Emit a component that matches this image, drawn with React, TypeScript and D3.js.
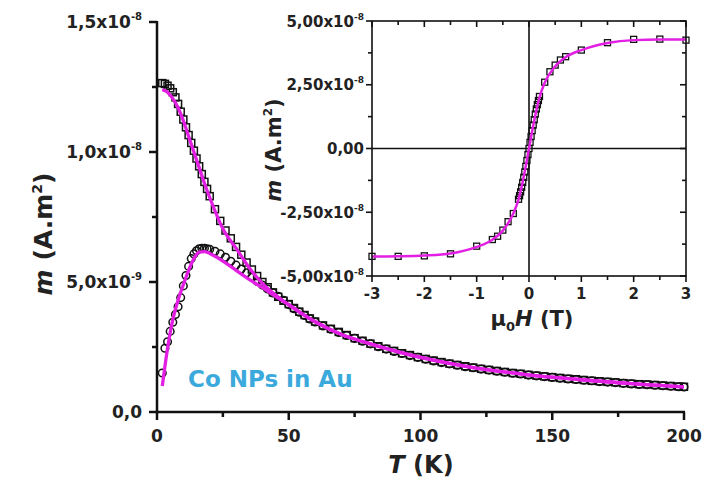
import React from "react";
import * as d3 from "d3";

// ---------- Main plot data (m in units of 1e-9 A.m²) ----------
const temps = [
  2, 3, 4, 5, 6, 7, 8, 9, 10, 11, 12, 13, 14, 15, 16, 17, 18, 19, 20,
  22, 24, 26, 28, 30, 32, 34, 36, 38, 40, 42, 44, 46, 48, 50, 52, 54, 56, 58, 60,
  63, 66, 69, 72, 75, 78, 81, 84, 87, 90, 93, 96, 99, 102, 105, 108, 111, 114, 117, 120,
  123, 126, 129, 132, 135, 138, 141, 144, 147, 150, 153, 156, 159, 162, 165, 168, 171, 174, 177, 180,
  183, 186, 189, 192, 195, 198, 200,
];
const fcValues = [
  12.65, 12.62, 12.55, 12.45, 12.3, 12.1, 11.85, 11.55, 11.25, 10.95, 10.65, 10.35, 10.05, 9.75, 9.45, 9.15, 8.85, 8.58, 8.3,
  7.8, 7.35, 6.98, 6.68, 6.35, 6.05, 5.75, 5.48, 5.23, 5.0, 4.8, 4.6, 4.43, 4.28, 4.15, 4.0, 3.86, 3.73, 3.6, 3.48,
  3.33, 3.2, 3.08, 2.96, 2.84, 2.74, 2.63, 2.53, 2.43, 2.35, 2.26, 2.19, 2.11, 2.04, 1.98, 1.92, 1.86, 1.81, 1.76, 1.71,
  1.66, 1.62, 1.58, 1.54, 1.5, 1.47, 1.43, 1.4, 1.37, 1.34, 1.31, 1.28, 1.26, 1.23, 1.2, 1.18, 1.16, 1.14, 1.11, 1.09,
  1.07, 1.06, 1.04, 1.02, 1.0, 0.98, 0.97,
];
const zfcValues = [
  1.5, 2.45, 2.7, 3.1, 3.45, 3.75, 4.05, 4.4, 4.85, 5.25, 5.6, 5.9, 6.08, 6.2, 6.28, 6.3, 6.3, 6.28, 6.26,
  6.18, 6.08, 5.95, 5.8, 5.65, 5.5, 5.35, 5.18, 5.03, 4.88, 4.73, 4.58, 4.45, 4.3, 4.13, 3.97, 3.84, 3.71, 3.58, 3.46,
  3.31, 3.18, 3.06, 2.94, 2.83, 2.72, 2.62, 2.51, 2.42, 2.33, 2.25, 2.17, 2.1, 2.03, 1.96, 1.9, 1.85, 1.8, 1.74, 1.7,
  1.65, 1.61, 1.57, 1.53, 1.49, 1.46, 1.42, 1.39, 1.36, 1.33, 1.3, 1.27, 1.25, 1.22, 1.2, 1.17, 1.15, 1.13, 1.1, 1.08,
  1.06, 1.05, 1.03, 1.01, 0.99, 0.97, 0.96,
];
const fitFcT = [2, 4, 6, 8, 10, 12, 14, 16, 18, 20, 25, 30, 35, 40, 45, 50, 60, 70, 80, 100, 120, 140, 160, 180, 200];
const fitFcValues = [12.4, 12.3, 12.05, 11.7, 11.2, 10.6, 10.0, 9.4, 8.8, 8.25, 7.05, 6.3, 5.55, 4.95, 4.5, 4.12, 3.47, 2.98, 2.65, 2.1, 1.71, 1.44, 1.25, 1.09, 0.97];
const fitZfcT = [2, 3, 4, 5, 6, 8, 10, 12, 14, 16, 18, 20, 25, 30, 35, 40, 45, 50, 60, 70, 80, 100, 120, 140, 160, 180, 200];
const fitZfcValues = [1.0, 1.75, 2.45, 3.05, 3.55, 4.3, 4.9, 5.45, 5.9, 6.15, 6.17, 6.1, 5.8, 5.45, 5.1, 4.78, 4.45, 4.13, 3.47, 2.98, 2.65, 2.1, 1.71, 1.44, 1.25, 1.09, 0.97];

const mainXTicks = [0, 50, 100, 150, 200];
const mainXMinor = [25, 75, 125, 175];
const mainYTicks = [0, 5, 10, 15];
const mainYMinor = [2.5, 7.5, 12.5];
const mainYTickLabels = [
  { base: "0,0", exp: "" },
  { base: "5,0x10", exp: "-9" },
  { base: "1,0x10", exp: "-8" },
  { base: "1,5x10", exp: "-8" },
];

// ---------- Inset data (m in units of 1e-8 A.m²) ----------
const fields = [
  -3, -2.5, -2, -1.5, -1, -0.7, -0.6, -0.5, -0.4, -0.3, -0.2, -0.18, -0.16, -0.14, -0.12, -0.1, -0.08, -0.06, -0.04, -0.02,
  0, 0.02, 0.04, 0.06, 0.08, 0.1, 0.12, 0.14, 0.16, 0.18, 0.2, 0.3, 0.4, 0.5, 0.6, 0.7, 1, 1.5, 2, 2.5, 3,
];
const loopValues = [
  -4.23, -4.23, -4.21, -4.13, -3.83, -3.57, -3.44, -3.2, -2.87, -2.55, -1.99, -1.85, -1.7, -1.52, -1.33, -1.13, -0.92, -0.7, -0.47, -0.24,
  0.0, 0.24, 0.47, 0.7, 0.92, 1.13, 1.35, 1.55, 1.72, 1.88, 2.04, 2.6, 3.01, 3.27, 3.47, 3.6, 3.86, 4.15, 4.28, 4.29, 4.25,
];
const fitFields = [-3, -2.5, -2, -1.5, -1, -0.7, -0.5, -0.3, -0.2, -0.1, 0, 0.1, 0.2, 0.3, 0.5, 0.7, 1, 1.5, 2, 2.5, 3];
const fitLoopValues = [-4.24, -4.23, -4.2, -4.12, -3.86, -3.58, -3.22, -2.55, -2.0, -1.1, 0, 1.1, 2.0, 2.58, 3.22, 3.58, 3.86, 4.14, 4.25, 4.27, 4.27];

const insetXTicks = [-3, -2, -1, 0, 1, 2, 3];
const insetXMinor = [-2.5, -1.5, -0.5, 0.5, 1.5, 2.5];
const insetYTicks = [-5, -2.5, 0, 2.5, 5];
const insetYMinor = [-3.75, -1.25, 1.25, 3.75];
const insetYTickLabels = [
  { base: "-5,00x10", exp: "-8" },
  { base: "-2,50x10", exp: "-8" },
  { base: "0,00", exp: "" },
  { base: "2,50x10", exp: "-8" },
  { base: "5,00x10", exp: "-8" },
];

const MAGENTA = "#e21fe3";
const FONT = "'DejaVu Sans', 'Liberation Sans', Arial, sans-serif";

export default function App() {
  const x = d3.scaleLinear().domain([0, 200]).range([157, 684]);
  const y = d3.scaleLinear().domain([0, 15]).range([412, 22]);
  const ix = d3.scaleLinear().domain([-3, 3]).range([372, 686]);
  const iy = d3.scaleLinear().domain([-5, 5]).range([276, 21]);

  const mainLine = d3
    .line<[number, number]>()
    .x((d) => x(d[0]))
    .y((d) => y(d[1]))
    .curve(d3.curveMonotoneX);
  const insetLine = d3
    .line<[number, number]>()
    .x((d) => ix(d[0]))
    .y((d) => iy(d[1]))
    .curve(d3.curveMonotoneX);

  const fcFit = fitFcT.map((t, i) => [t, fitFcValues[i]] as [number, number]);
  const zfcFit = fitZfcT.map((t, i) => [t, fitZfcValues[i]] as [number, number]);
  const loopFit = fitFields.map((h, i) => [h, fitLoopValues[i]] as [number, number]);

  const sq = 7;
  const isq = 6;

  return (
    <svg
      width={707}
      height={481}
      style={{ position: "absolute", left: 0, top: 0, background: "#fff" }}
      fontFamily={FONT}
      fontWeight="bold"
    >
      <rect x={0} y={0} width={707} height={481} fill="#fff" />

      {/* ---------- Main data ---------- */}
      <g fill="none" stroke="#111" strokeWidth={1.5}>
        {temps.map((t, i) => (
          <rect key={"fc" + i} x={x(t) - sq / 2} y={y(fcValues[i]) - sq / 2} width={sq} height={sq} />
        ))}
        {temps.map((t, i) => (
          <circle key={"zfc" + i} cx={x(t)} cy={y(zfcValues[i])} r={3.8} />
        ))}
      </g>
      <path d={mainLine(fcFit) || ""} fill="none" stroke={MAGENTA} strokeWidth={3.3} />
      <path d={mainLine(zfcFit) || ""} fill="none" stroke={MAGENTA} strokeWidth={3.3} />

      {/* ---------- Main axes ---------- */}
      <g stroke="#111" strokeWidth={2.5} fill="none">
        <line x1={x(0)} y1={y(0) + 1.25} x2={x(0)} y2={y(15) - 1} />
        <line x1={x(0) - 1.25} y1={y(0)} x2={x(200) + 1} y2={y(0)} />
        {mainYTicks.map((v) => (
          <line key={"myt" + v} x1={x(0) - 8} x2={x(0)} y1={y(v)} y2={y(v)} />
        ))}
        {mainYMinor.map((v) => (
          <line key={"mym" + v} x1={x(0) - 5} x2={x(0)} y1={y(v)} y2={y(v)} />
        ))}
        {mainXTicks.map((v) => (
          <line key={"mxt" + v} x1={x(v)} x2={x(v)} y1={y(0)} y2={y(0) + 8} />
        ))}
        {mainXMinor.map((v) => (
          <line key={"mxm" + v} x1={x(v)} x2={x(v)} y1={y(0)} y2={y(0) + 5} />
        ))}
      </g>
      <g fill="#222" fontSize={17}>
        {mainYTicks.map((v, i) => (
          <text key={"myl" + v} x={x(0) - 15} y={y(v) + 6} textAnchor="end">
            {mainYTickLabels[i].base}
            {mainYTickLabels[i].exp && (
              <tspan fontSize={10} dy={-8}>
                {mainYTickLabels[i].exp}
              </tspan>
            )}
          </text>
        ))}
        {mainXTicks.map((v) => (
          <text key={"mxl" + v} x={x(v)} y={y(0) + 30} textAnchor="middle">
            {v}
          </text>
        ))}
      </g>
      <text x={421} y={473} textAnchor="middle" fontSize={24} fill="#222">
        <tspan fontStyle="italic">T</tspan> (K)
      </text>
      <text transform="translate(52,234) rotate(-90)" textAnchor="middle" fontSize={25} fill="#222">
        <tspan fontStyle="italic">m</tspan> (A.m
        <tspan fontSize={14} dy={-10}>2</tspan>
        <tspan dy={10}>)</tspan>
      </text>

      <text x={188} y={387} fontSize={23} fill="#3ba9dc">
        Co NPs in Au
      </text>

      {/* ---------- Inset ---------- */}
      <rect x={ix(-3)} y={iy(5)} width={ix(3) - ix(-3)} height={iy(-5) - iy(5)} fill="#fff" />
      <g stroke="#111" strokeWidth={1.6}>
        <line x1={ix(-3)} x2={ix(3)} y1={iy(0)} y2={iy(0)} />
        <line x1={ix(0)} x2={ix(0)} y1={iy(5)} y2={iy(-5)} />
      </g>
      <g fill="none" stroke="#111" strokeWidth={1.3}>
        {fields.map((h, i) => (
          <rect key={"lp" + i} x={ix(h) - isq / 2} y={iy(loopValues[i]) - isq / 2} width={isq} height={isq} />
        ))}
      </g>
      <path d={insetLine(loopFit) || ""} fill="none" stroke={MAGENTA} strokeWidth={2.5} />
      <g stroke="#111" strokeWidth={1.6} fill="none">
        <rect x={ix(-3)} y={iy(5)} width={ix(3) - ix(-3)} height={iy(-5) - iy(5)} />
        {insetYTicks.map((v) => (
          <g key={"iyt" + v}>
            <line x1={ix(-3) - 6} x2={ix(-3)} y1={iy(v)} y2={iy(v)} />
            <line x1={ix(3) - 6} x2={ix(3)} y1={iy(v)} y2={iy(v)} />
          </g>
        ))}
        {insetYMinor.map((v) => (
          <g key={"iym" + v}>
            <line x1={ix(-3) - 4} x2={ix(-3)} y1={iy(v)} y2={iy(v)} />
            <line x1={ix(3) - 4} x2={ix(3)} y1={iy(v)} y2={iy(v)} />
          </g>
        ))}
        {insetXTicks.map((v) => (
          <g key={"ixt" + v}>
            <line x1={ix(v)} x2={ix(v)} y1={iy(-5)} y2={iy(-5) + 6} />
            <line x1={ix(v)} x2={ix(v)} y1={iy(5)} y2={iy(5) + 6} />
          </g>
        ))}
        {insetXMinor.map((v) => (
          <g key={"ixm" + v}>
            <line x1={ix(v)} x2={ix(v)} y1={iy(-5)} y2={iy(-5) + 4} />
            <line x1={ix(v)} x2={ix(v)} y1={iy(5)} y2={iy(5) + 4} />
          </g>
        ))}
      </g>
      <g fill="#222" fontSize={15}>
        {insetYTicks.map((v, i) => (
          <text key={"iyl" + v} x={ix(-3) - 8} y={iy(v) + 5.5} textAnchor="end">
            {insetYTickLabels[i].base}
            {insetYTickLabels[i].exp && (
              <tspan fontSize={9} dy={-7}>
                {insetYTickLabels[i].exp}
              </tspan>
            )}
          </text>
        ))}
        {insetXTicks.map((v) => (
          <text key={"ixl" + v} x={ix(v)} y={iy(-5) + 23} textAnchor="middle">
            {v}
          </text>
        ))}
      </g>
      <text x={532} y={326} textAnchor="middle" fontSize={21} fill="#222">
        μ<tspan fontSize={13} dy={5}>0</tspan>
        <tspan dy={-5} fontStyle="italic">H</tspan> (T)
      </text>
      <text transform="translate(281,150) rotate(-90)" textAnchor="middle" fontSize={21} fill="#222">
        <tspan fontStyle="italic">m</tspan> (A.m
        <tspan fontSize={12} dy={-9}>2</tspan>
        <tspan dy={9}>)</tspan>
      </text>
    </svg>
  );
}
